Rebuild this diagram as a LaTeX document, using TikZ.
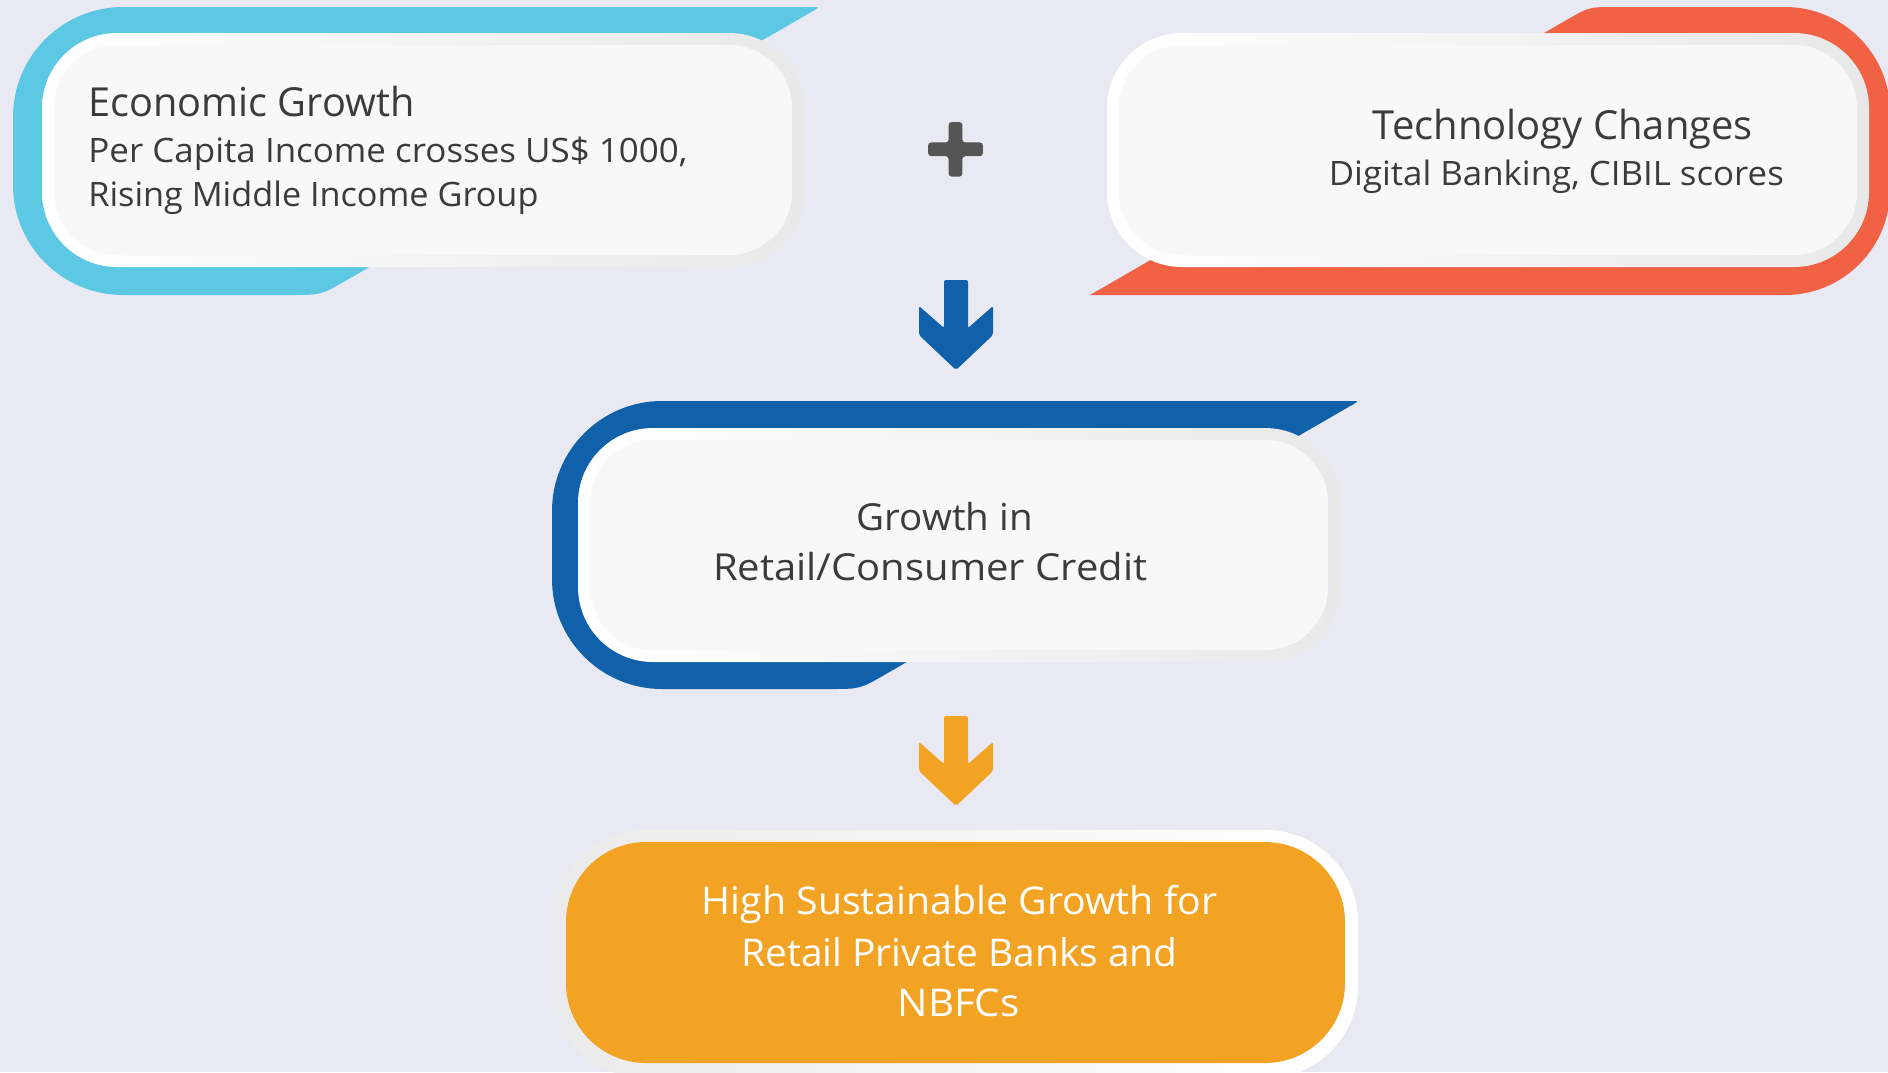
\documentclass[tikz,border=0pt]{standalone}
\usepackage{fontspec}
\setmainfont{Open Sans}
\usepackage{graphicx}
\definecolor{bgc}{HTML}{E9E9F3}
\definecolor{cyanc}{HTML}{5DC8E4}
\definecolor{redc}{HTML}{F06243}
\definecolor{bluec}{HTML}{1060AA}
\definecolor{goldc}{HTML}{F2A323}
\definecolor{txtc}{HTML}{3B3B3B}
\definecolor{plusc}{HTML}{555555}
\definecolor{innerc}{HTML}{F8F8F8}
\definecolor{ringc}{HTML}{EBEBEB}
\newcommand\fw[2]{\resizebox{#1pt}{\height}{#2}}
\tikzset{
  tx/.style={inner sep=0pt, text=txtc},
  wtx/.style={inner sep=0pt, text=white},
  outerbox/.style={rounded corners=37.5pt, left color=white, right color=black!9},
  innerbox/.style={rounded corners=31.5pt, fill=innerc},
  arrowshape/.style={rounded corners=1pt},
}
\begin{document}
\begin{tikzpicture}[x=0.5pt,y=-0.5pt]
\useasboundingbox (0,0) rectangle (1888,1072);
\clip (0,0) rectangle (1888,1072);
\fill[bgc] (0,0) rectangle (1888,1072);

% cyan back shape (Economic Growth)
\fill[cyanc] (123,7) -- (812,7) .. controls (820,7) .. (813,11) -- (347,280)
  .. controls (321,295) .. (291,295) -- (123,295)
  arc[start angle=90,end angle=180,radius=110] -- (13,117)
  arc[start angle=180,end angle=270,radius=110] -- cycle;

% red back shape (Technology)
\fill[redc] (1090,295) -- (1785,295) arc[start angle=90,end angle=0,radius=105]
  -- (1890,112) arc[start angle=0,end angle=-90,radius=105]
  -- (1615,7) .. controls (1589,7) .. (1566.5,20) -- cycle;

% blue back shape (middle)
\begin{scope}[shift={(539,394)}]
\fill[bluec] (123,7) -- (812,7) .. controls (820,7) .. (813,11) -- (347,280)
  .. controls (321,295) .. (291,295) -- (123,295)
  arc[start angle=90,end angle=180,radius=110] -- (13,117)
  arc[start angle=180,end angle=270,radius=110] -- cycle;
\end{scope}

% white boxes
\path[outerbox] (42,33) rectangle ++(762,234);
\path[innerbox] (54,45) rectangle ++(738,210);
\path[outerbox] (1107,33) rectangle ++(762,234);
\path[innerbox] (1119,45) rectangle ++(738,210);
\path[outerbox] (578,428) rectangle ++(762,234);
\path[innerbox] (590,440) rectangle ++(738,210);

% final box
\path[rounded corners=46pt, left color=ringc, right color=white] (553,830) rectangle (1358,1078);
\fill[goldc, rounded corners=40pt] (566,842) rectangle (1345,1063);

% plus sign
\fill[plusc, rounded corners=1.5pt] (948.65,122) -- (962.35,122) -- (962.35,142.45) -- (982.8,142.45)
  -- (982.8,156.15) -- (962.35,156.15) -- (962.35,176.6) -- (948.65,176.6) -- (948.65,156.15)
  -- (928.2,156.15) -- (928.2,142.45) -- (948.65,142.45) -- cycle;

% down arrows
\fill[bluec, arrowshape] (944,280) -- (968,280) -- (968,328) -- (993,306) -- (993,335) -- (956,370)
  -- (919,335) -- (919,306) -- (944,328) -- cycle;
\begin{scope}[shift={(0,436)}]
\fill[goldc, arrowshape] (944,280) -- (968,280) -- (968,328) -- (993,306) -- (993,335) -- (956,370)
  -- (919,335) -- (919,306) -- (944,328) -- cycle;
\end{scope}

% texts
\node[tx,anchor=base west] (econT) at (88,116.7) {\fw{163}{\fontsize{20}{24}\selectfont Economic Growth}};
\node[tx,anchor=base west] (econS1) at (88,162.3) {\fw{299.5}{\fontsize{16.8}{20}\selectfont Per Capita Income crosses US\$ 1000,}};
\node[tx,anchor=base west] (econS2) at (88,206.7) {\fw{225}{\fontsize{16.8}{20}\selectfont Rising Middle Income Group}};
\node[tx,anchor=base] (techT) at (1562.8,139.3) {\fw{190}{\fontsize{20}{24}\selectfont Technology Changes}};
\node[tx,anchor=base] (techS) at (1556.3,185) {\fw{227.5}{\fontsize{16.8}{20}\selectfont Digital Banking, CIBIL scores}};
\node[tx,anchor=base] (midA) at (944.7,530) {\fw{88}{\fontsize{18.6}{22}\selectfont Growth in}};
\node[tx,anchor=base] (midB) at (930.2,580) {\fw{217}{\fontsize{18.6}{22}\selectfont Retail/Consumer Credit}};
\node[wtx,anchor=base] (finA) at (959.5,914) {\fw{257.5}{\fontsize{19.1}{23}\selectfont High Sustainable Growth for}};
\node[wtx,anchor=base] (finB) at (959.5,966) {\fw{218}{\fontsize{19.1}{23}\selectfont Retail Private Banks and}};
\node[wtx,anchor=base] (finC) at (958.6,1016.7) {\fw{61}{\fontsize{19.1}{23}\selectfont NBFCs}};
\end{tikzpicture}
\end{document}
